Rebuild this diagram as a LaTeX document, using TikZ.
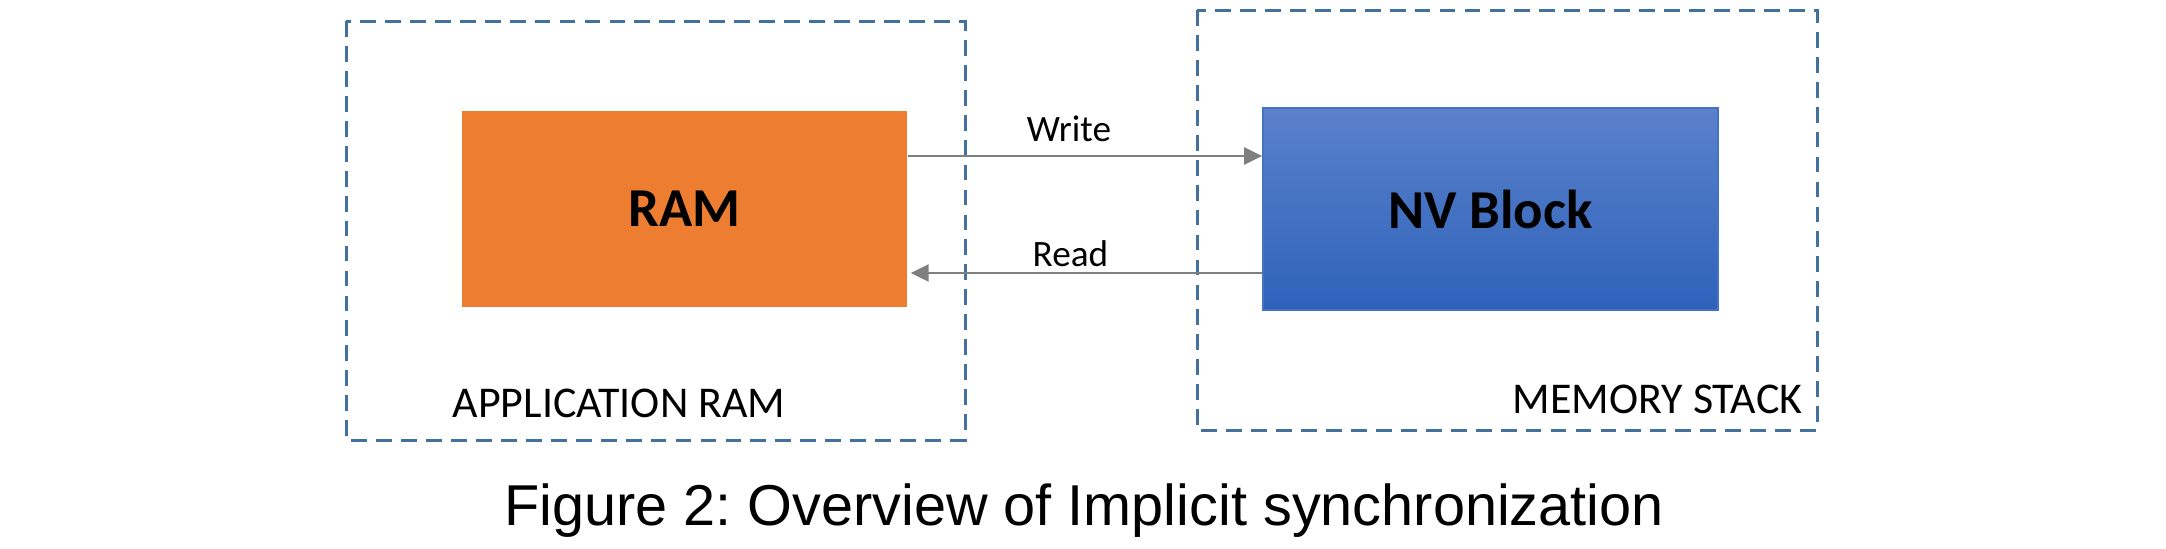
\documentclass[tikz,border=0pt]{standalone}
\usepackage{fontspec}
\setmainfont{Carlito}
\newfontfamily\capfont{Liberation Sans}
\usetikzlibrary{arrows.meta}
\frenchspacing
\definecolor{ramorange}{HTML}{ED7D31}
\definecolor{nvtop}{HTML}{5B81CB}
\definecolor{nvbottom}{HTML}{2E62BA}
\definecolor{nvedge}{HTML}{4472C4}
\definecolor{groupblue}{HTML}{41719C}
\definecolor{arrowgray}{HTML}{7F7F7F}
\tikzset{
    group/.style={draw=groupblue,line width=0.85pt,dash pattern=on 4.5pt off 2.6pt},
    block/.style={inner sep=0pt,font=\fontsize{15.6}{18}\selectfont\bfseries},
    flow/.style={draw=arrowgray,line width=0.65pt,-{Triangle[length=1.8mm,width=1.7mm]}},
    lbl/.style={inner sep=0pt,font=\fontsize{12.5}{15}\selectfont},
    flowlbl/.style={inner sep=0pt,font=\fontsize{10.6}{12}\selectfont,xshift=-1.6mm}
}
\begin{document}
\begin{tikzpicture}
        \useasboundingbox (0,0) rectangle (21.66,-5.48);
        % dashed groups
        \draw[group] (3.46,-0.21) rectangle (9.65,-4.40);
        \draw[group] (11.97,-0.10) rectangle (18.17,-4.30);
        % blocks
        \node[block,fill=ramorange,minimum width=4.45cm,minimum height=1.96cm] at (6.845,-2.09) (ram) {RAM};
        \node[block,draw=nvedge,line width=0.5pt,top color=nvtop,bottom color=nvbottom,minimum width=4.55cm,minimum height=2.02cm] at (14.905,-2.09) (nv) {NV Block};
        % group labels
        \node[lbl,anchor=base west] at (4.52,-4.17) (appram) {APPLICATION RAM};
        \node[lbl,anchor=base east] at (18.03,-4.13) (memstack) {MEMORY STACK};
        % draw arrows
        \draw[flow] ([yshift=5.3mm]ram.east) -- node[flowlbl,above=1.3mm] (write) {Write} ([yshift=5.3mm]nv.west);
        \draw[flow] ([yshift=-6.4mm]nv.west) -- node[flowlbl,above=0.5mm] (read) {Read} ([yshift=-6.4mm,xshift=0.3mm]ram.east);
        % caption
        \node[anchor=base,inner sep=0pt,font=\capfont\fontsize{16.4}{20}\selectfont] at (10.84,-5.25) (caption) {Figure 2: Overview of Implicit synchronization};
    \end{tikzpicture}
\end{document}
